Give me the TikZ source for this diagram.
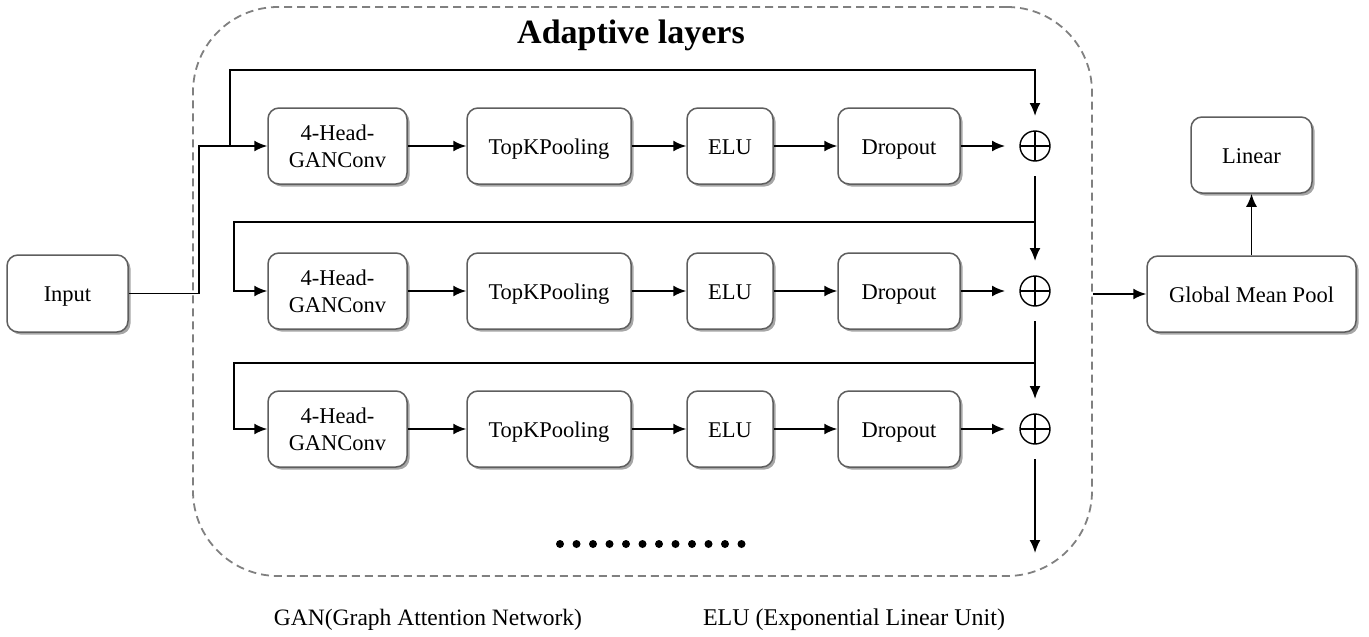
\documentclass[tikz,border=0pt]{standalone}
\usepackage{fontspec}
\setmainfont{Liberation Serif}
\usetikzlibrary{arrows.meta,shadows}
\definecolor{boxborder}{HTML}{5E5E5E}
\definecolor{framegray}{HTML}{808080}
\begin{document}
\begin{tikzpicture}[x=1pt,y=-1pt,
  box/.style={draw=boxborder, line width=1.5pt, rounded corners=11pt, fill=white,
    drop shadow={shadow xshift=2.5pt, shadow yshift=-2.5pt, opacity=0.35, fill=black},
    inner sep=0pt, align=center, font=\fontsize{22.5}{27}\selectfont},
  one/.style={text height=18pt, text depth=2pt},
  arr/.style={line width=1.9pt, -{Latex[length=13pt,width=11pt]}},
  plus/.style={circle, draw, line width=1.4pt, minimum size=30pt, inner sep=0pt, outer sep=15pt,
    path picture={\draw[line width=1.4pt] (path picture bounding box.north) -- (path picture bounding box.south)
      (path picture bounding box.west) -- (path picture bounding box.east);}},
  frm/.style={draw=framegray, dash pattern=on 8pt off 5pt, line width=1.8pt, rounded corners=85pt, inner sep=0pt}
]
\useasboundingbox (0,0) rectangle (1369,637);

\node[frm, minimum width=899pt, minimum height=569pt] (frame) at (642.5,291.5) {};
\node[font=\fontsize{34}{40}\selectfont\bfseries, anchor=base] (title) at (631,43) {Adaptive layers};

\node[box, one, minimum width=121pt, minimum height=77pt] (in) at (67.5,293.5) {Input};

\foreach \r/\yy in {1/146,2/291,3/429}{
  \node[box, minimum width=139pt, minimum height=76pt] (g\r) at (337.5,\yy) {4-Head-\\GANConv};
  \node[box, one, minimum width=164pt, minimum height=76pt] (k\r) at (549,\yy) {TopKPooling};
  \node[box, one, minimum width=86pt, minimum height=76pt] (e\r) at (730,\yy) {ELU};
  \node[box, one, minimum width=122pt, minimum height=76pt] (d\r) at (899,\yy) {Dropout};
  \node[plus] (o\r) at (1035,\yy) {};
  \draw[arr] (g\r) -- (k\r);
  \draw[arr] (k\r) -- (e\r);
  \draw[arr] (e\r) -- (d\r);
  \draw[arr] (d\r) -- (o\r);
}

\coordinate (j0) at (199,0);
\coordinate (t1) at (230,70);
\coordinate (t2) at (234,222);
\coordinate (t3) at (234,363);
\coordinate (endp) at (1035,553);

\draw[arr] (in.east) -- (in.east -| j0) |- (g1.west);
\draw[arr] (t1 |- g1.west) -- (t1) -| (o1.north);
\draw[arr] (o1 |- t2) -- (t2) |- (g2.west);
\draw[arr] (o1.south) -- (o2.north);
\draw[arr] (o2 |- t3) -- (t3) |- (g3.west);
\draw[arr] (o2.south) -- (o3.north);
\draw[arr] (o3.south) -- (endp);

\foreach \i in {0,...,11} \fill (560+16.5*\i,544) circle (4pt);

\node[box, one, minimum width=209pt, minimum height=76pt] (gmp) at (1251.5,294) {Global Mean Pool};
\node[box, one, minimum width=121pt, minimum height=76pt] (lin) at (1251.5,155) {Linear};
\draw[arr] (frame.east |- gmp.west) -- (gmp.west);
\draw[arr] (gmp.north) -- (lin.south);

\node[font=\fontsize{23.5}{28}\selectfont] (n1) at (428,620) {GAN(Graph Attention Network)};
\node[font=\fontsize{24}{28}\selectfont] (n2) at (854,620) {ELU (Exponential Linear Unit)};
\end{tikzpicture}
\end{document}
